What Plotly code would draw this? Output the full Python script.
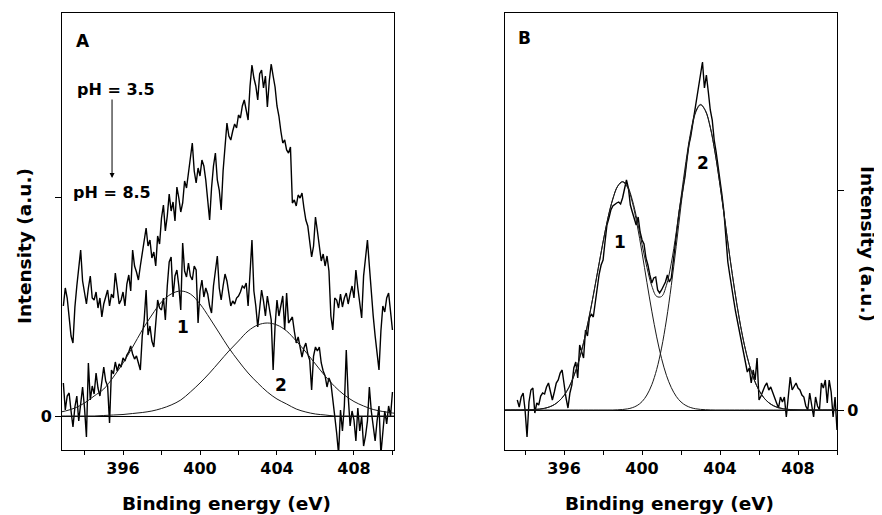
import plotly.graph_objects as go

# ---------------- data (intensity in arbitrary units, 0 = baseline) ----------------
# Panel A: measured spectra on a 0.1 eV grid starting at 392.9 eV
A_START, A_STEP, A_N = 392.9, 0.1, 172
energy_A = [round(A_START + A_STEP * i, 2) for i in range(A_N)]

spec_pH35 = [
    110, 128, 118, 100, 80, 73, 109, 130, 150, 166,
    135, 121, 112, 128, 140, 118, 116, 124, 108, 118,
    99, 112, 120, 126, 110, 122, 118, 143, 128, 112,
    116, 124, 110, 132, 141, 125, 166, 150, 144, 136,
    150, 162, 175, 188, 170, 176, 158, 164, 150, 180,
    172, 198, 211, 185, 200, 222, 205, 214, 195, 229,
    218, 204, 213, 235, 228, 244, 262, 273, 245, 233,
    248, 240, 256, 250, 236, 215, 196, 228, 250, 263,
    236, 226, 206, 245, 270, 293, 280, 276, 285, 292,
    288, 301, 298, 310, 316, 306, 296, 330, 351, 338,
    330, 316, 342, 346, 328, 340, 309, 335, 352, 340,
    329, 310, 300, 285, 273, 276, 266, 263, 269, 213,
    216, 210, 221, 218, 223, 208, 196, 190, 176, 159,
    170, 199, 185, 170, 155, 162, 150, 160, 145, 100,
    86, 118, 116, 108, 122, 109, 118, 123, 112, 122,
    130, 118, 146, 128, 110, 98, 140, 160, 176, 150,
    120, 100, 80, 60, 46, 85, 110, 104, 118, 123,
    106, 86,
]

spec_pH85 = [
    33, 6, 20, 23, 5, -11, 9, 20, -5, 15,
    29, 8, -21, 53, 16, 30, 22, 43, 28, 20,
    38, 49, 35, 30, -7, 46, 42, 54, 45, 52,
    49, 58, 55, 61, 64, 70, 62, 57, 60, 52,
    46, 80, 96, 126, 81, 90, 75, 69, 95, 116,
    108, 106, 118, 96, 130, 154, 159, 119, 140, 146,
    130, 106, 173, 145, 139, 153, 140, 136, 150, 146,
    93, 125, 136, 119, 128, 122, 110, 103, 130, 145,
    160, 128, 116, 130, 142, 135, 120, 110, 115, 112,
    118, 120, 124, 130, 128, 133, 110, 150, 176, 125,
    110, 89, 110, 126, 115, 100, 120, 108, 96, 46,
    90, 116, 100, 110, 120, 86, 123, 93, 96, 99,
    85, 73, 79, 70, 59, 68, 73, 62, 56, 26,
    60, 69, 65, 69, 53, 45, 40, 29, 38, 33,
    13, 0, -17, -38, 6, -15, 10, 66, 20, -10,
    5, -4, -25, 8, -15, 0, -30, -20, -5, 29,
    5, -10, -25, -5, 10, -38, -15, 5, -8, 10,
    0, 24,
]

# Panel A: fitted components on a 0.5 eV grid starting at 392.5 eV
FA_START, FA_STEP, FA_N = 392.5, 0.5, 37
energy_fitA = [round(FA_START + FA_STEP * i, 2) for i in range(FA_N)]
fitA_1 = [3, 5, 8, 13, 20, 27, 39, 53, 69, 86, 101, 114, 122, 125, 122, 112, 98, 83, 68,
          55, 43, 33, 24, 17, 12, 7, 4, 2, 1, 0, 0, 0, 0, 0, 0, 0, 0]
fitA_2 = [0, 0, 0, 0, 0, 0.5, 1, 1.5, 2.5, 3.5, 5, 7.5, 11, 16, 24, 33, 43, 54, 65,
          75, 85, 91, 93, 91, 85, 75, 64, 52, 40, 29.5, 21, 14.5, 10, 6.5, 4.5, 3, 2]

# Panel B: measured spectrum on a 0.1 eV grid starting at 393.6 eV
B_START, B_STEP, B_N = 393.6, 0.1, 165
energy_B = [round(B_START + B_STEP * i, 2) for i in range(B_N)]
spec_B = [
    10, 3, 13, 17,
    0, -27, 8, 20, 22, -3, 7, 5, 14, 17,
    16, 23, 27, 18, 10, 18, 27, 30, 37, 40,
    25, 12, 2, 17, 25, 42, 48, 32, 65, 57,
    52, 80, 74, 92, 96, 93, 108, 120, 136, 145,
    150, 168, 185, 192, 200, 204, 206, 207, 208, 206,
    212, 222, 230, 222, 205, 198, 190, 185, 193, 178,
    170, 166, 152, 145, 135, 127, 132, 133, 120, 117,
    120, 124, 128, 135, 128, 132, 150, 165, 183, 198,
    210, 222, 233, 250, 265, 274, 286, 296, 308, 322,
    336, 348, 322, 335, 318, 300, 290, 270, 258, 245,
    233, 215, 198, 170, 148, 135, 120, 110, 98, 88,
    78, 70, 58, 50, 38, 42, 27, 40, 30, 52,
    10, 14, 20, 24, 27, 20, 23, 17, 12, 7,
    2, 13, 8, 13, -7, 15, 33, 20, 23, 27,
    22, 20, 15, 13, 4, 0, 17, 5, -7, 13,
    4, 0, 27, 22, 30, 7, 30, 18, -7, 13,
    -20,
]

# Panel B: fitted components and envelope on a 0.25 eV grid starting at 392.75 eV
FB_START, FB_STEP, FB_N = 392.75, 0.25, 71
energy_fitB = [round(FB_START + FB_STEP * i, 3) for i in range(FB_N)]
fitB_1 = [0, 0, 0, 0, 0, 0.1, 0.2, 0.5, 0.9, 1.7, 3.1, 5.4, 9.1, 14.6, 22.7, 33.9, 48.6,
          67.3, 89.6, 114.7, 141.5, 168, 192, 211, 223.7, 228, 222.8, 207.8, 185, 157.2,
          127.6, 98.8, 73.1, 51.6, 34.7, 22.4, 13.7, 8.0, 4.5, 2.4, 1.2, 0.6, 0.3, 0.1,
          0, 0, 0, 0, 0, 0, 0, 0, 0, 0, 0, 0, 0, 0, 0, 0, 0, 0, 0, 0, 0, 0, 0, 0, 0, 0, 0]
fitB_2 = [0, 0, 0, 0, 0, 0, 0, 0, 0, 0, 0, 0, 0, 0, 0, 0, 0, 0, 0, 0, 0, 0, 0, 0,
          0.2, 0.5, 1.1, 2.3, 4.5, 8.4, 15.0, 25.3, 40.5, 61.9, 90, 124.4, 163.6, 204.8,
          243.7, 276, 297.5, 305, 299.2, 282.7, 256.8, 224.8, 189.4, 153.4, 119.9, 90.0,
          65.0, 45.3, 30.3, 19.6, 12.2, 7.3, 4.2, 2.3, 1.2, 0.6, 0.3, 0.1,
          0, 0, 0, 0, 0, 0, 0, 0, 0]
fitB_env = [0, 0, 0, 0, 0, 0.1, 0.2, 0.5, 0.9, 1.7, 3.1, 5.4, 9.1, 14.6, 22.7, 33.9, 48.6,
            67.3, 89.6, 114.7, 141.5, 168, 192, 211, 223.9, 228.5, 223.9, 210.1, 189.5,
            165.6, 142.6, 124.1, 113.6, 113.5, 124.7, 146.8, 177.3, 212.8, 248.2, 278.4,
            298.7, 305.6, 299.5, 282.8, 256.8, 224.8, 189.4, 153.4, 119.9, 90.0, 65.0,
            45.3, 30.3, 19.6, 12.2, 7.3, 4.2, 2.3, 1.2, 0.6, 0.3, 0.1,
            0, 0, 0, 0, 0, 0, 0, 0, 0]

x_tickvals = [394, 396, 398, 400, 402, 404, 406, 408, 410]
x_ticktext = ["", "396", "", "400", "", "404", "", "408", ""]

# ---------------- figure ----------------
OFF = 8  # page body margin offset compensation (px)
W, H = 882 + OFF, 515 + OFF
FONT = "DejaVu Sans"

fig = go.Figure()
data_line = dict(color="black", width=1.4)
fit_line = dict(color="#1a1a1a", width=1, shape="spline", smoothing=1.0)

fig.add_trace(go.Scatter(x=energy_A, y=spec_pH35, mode="lines", line=data_line, xaxis="x", yaxis="y"))
fig.add_trace(go.Scatter(x=energy_A, y=spec_pH85, mode="lines", line=data_line, xaxis="x", yaxis="y"))
fig.add_trace(go.Scatter(x=energy_fitA, y=fitA_1, mode="lines", line=fit_line, xaxis="x", yaxis="y"))
fig.add_trace(go.Scatter(x=energy_fitA, y=fitA_2, mode="lines", line=fit_line, xaxis="x", yaxis="y"))

fig.add_trace(go.Scatter(x=energy_B, y=spec_B, mode="lines", line=data_line, xaxis="x2", yaxis="y2"))
fig.add_trace(go.Scatter(x=energy_fitB, y=fitB_1, mode="lines", line=fit_line, xaxis="x2", yaxis="y2"))
fig.add_trace(go.Scatter(x=energy_fitB, y=fitB_2, mode="lines", line=fit_line, xaxis="x2", yaxis="y2"))
fig.add_trace(go.Scatter(x=energy_fitB, y=fitB_env, mode="lines", line=fit_line, xaxis="x2", yaxis="y2"))

tickfont = dict(family=FONT, size=16, color="black", weight="bold")
common = dict(showline=True, linecolor="black", linewidth=1, mirror=True, showgrid=False,
              ticks="outside", tickwidth=1, tickcolor="black", tickfont=tickfont,
              automargin=False, fixedrange=True)


def px_x(p):
    return (p - OFF) / W


def px_y(p):
    return 1 - (p - OFF) / H


ydom = [px_y(450), px_y(13)]
fig.update_layout(
    width=W, height=H, margin=dict(l=0, r=0, t=0, b=0),
    paper_bgcolor="white", plot_bgcolor="white", showlegend=False,
    xaxis=dict(domain=[px_x(62), px_x(394)], range=[392.83, 410.08], anchor="y",
               tickmode="array", tickvals=x_tickvals, ticktext=x_ticktext, ticklen=4,
               zeroline=False, **common),
    yaxis=dict(domain=ydom, range=[-34, 403], anchor="x", tickmode="array",
               tickvals=[0, 219], ticktext=["0", ""], ticklen=6,
               zeroline=True, zerolinecolor="black", zerolinewidth=1, **common),
    xaxis2=dict(domain=[px_x(505), px_x(837)], range=[392.97, 410.0], anchor="y2",
                tickmode="array", tickvals=x_tickvals, ticktext=x_ticktext, ticklen=4,
                zeroline=False, **common),
    yaxis2=dict(domain=ydom, range=[-40, 397], anchor="x2", side="right", tickmode="array",
                tickvals=[0, 220], ticktext=["0", ""], ticklen=6,
                zeroline=True, zerolinecolor="black", zerolinewidth=1, **common),
)


def bold(s):
    return dict(family=FONT, size=s, color="black", weight="bold")


C = dict(xanchor="center", yanchor="middle", showarrow=False)
ann = [
    dict(text="A", x=393.92, y=375, xref="x", yref="y", font=bold(17), **C),
    dict(text="B", x=393.95, y=372, xref="x2", yref="y2", font=bold(17), **C),
    dict(text="pH = 3.5", x=395.64, y=327, xref="x", yref="y", font=bold(16), **C),
    dict(text="pH = 8.5", x=395.45, y=224, xref="x", yref="y", font=bold(16), **C),
    dict(text="", x=395.43, y=238, ax=395.43, ay=318, xref="x", yref="y", axref="x", ayref="y",
         showarrow=True, arrowhead=2, arrowsize=1, arrowwidth=1, arrowcolor="black"),
    dict(text="1", x=399.12, y=89, xref="x", yref="y", font=bold(17), **C),
    dict(text="2", x=404.21, y=31, xref="x", yref="y", font=bold(17), **C),
    dict(text="1", x=398.87, y=168, xref="x2", yref="y2", font=bold(17), **C),
    dict(text="2", x=403.13, y=247, xref="x2", yref="y2", font=bold(17), **C),
    dict(text="Intensity (a.u.)", x=px_x(25), y=px_y(246), xref="paper", yref="paper",
         textangle=-90, font=bold(18.5), **C),
    dict(text="Intensity (a.u.)", x=px_x(868), y=px_y(244), xref="paper", yref="paper",
         textangle=90, font=bold(18.5), **C),
    dict(text="Binding energy (eV)", x=px_x(226), y=px_y(503), xref="paper", yref="paper",
         font=bold(18.5), **C),
    dict(text="Binding energy (eV)", x=px_x(669.5), y=px_y(503), xref="paper", yref="paper",
         font=bold(18.5), **C),
]
fig.update_layout(annotations=ann)

fig.write_html("out.html")
